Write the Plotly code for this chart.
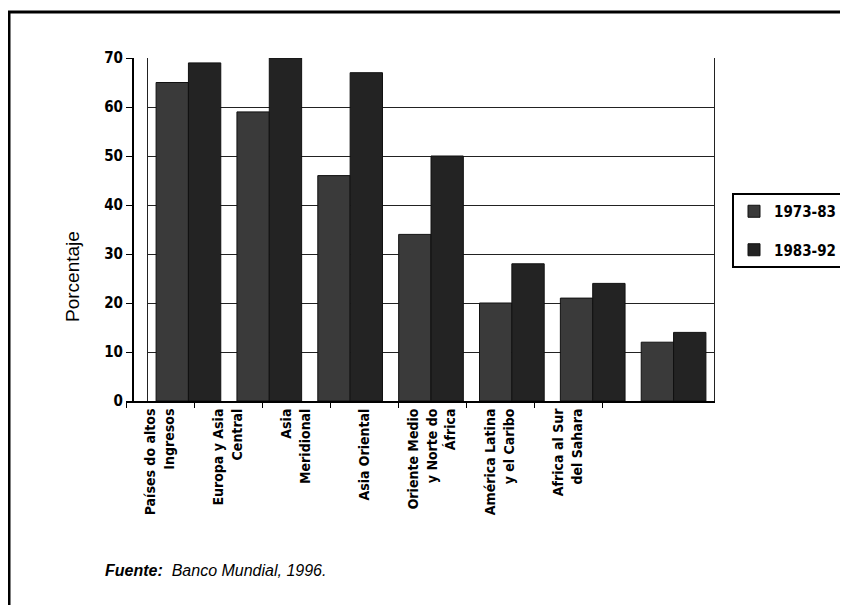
import plotly.graph_objects as go

W, H = 848, 605
OFF = 8  # page body margin offset of the rendered figure

categories = ["Países do altos<br>Ingresos", "Europa y Asia<br>Central", "Asia<br>Meridional",
              "Asia Oriental", "Oriente Medio<br>y Norte do<br>África", "América Latina<br>y el Caribo",
              "Africa al Sur<br>del Sahara"]
series_names = ["1973-83", "1983-92"]
values_7383 = [65, 59, 46, 34, 20, 21, 12]
values_8392 = [69, 70, 67, 50, 28, 24, 14]
y_ticks = [0, 10, 20, 30, 40, 50, 60, 70]

COND = "DejaVu Sans Condensed, Liberation Sans Narrow, Roboto Condensed, Arial Narrow, sans-serif"

def px(x):
    return (x - OFF) / W

def py(y):
    return 1 - (y - OFF) / H

fig = go.Figure()
fig.add_trace(go.Bar(x=list(range(len(categories))), y=values_7383, name=series_names[0],
                     marker=dict(color="#3a3a3a", line=dict(color="#111111", width=1)),
                     legendgroup="a", yaxis="y2"))
fig.add_trace(go.Bar(x=list(range(len(categories))), y=values_8392, name=series_names[1],
                     marker=dict(color="#232323", line=dict(color="#111111", width=1)),
                     legendgroup="b", yaxis="y2"))
# invisible trace carrying the category labels on the front axis
fig.add_trace(go.Scatter(x=categories, y=[0] * len(categories), xaxis="x2", yaxis="y",
                         mode="markers", marker=dict(opacity=0), showlegend=False,
                         hoverinfo="skip"))

fig.update_layout(
    template="none",
    width=W, height=H, autosize=False,
    margin=dict(l=0, r=0, t=0, b=0, pad=0),
    paper_bgcolor="white", plot_bgcolor="rgba(0,0,0,0)",
    barmode="group", bargap=0.2, bargroupgap=0.0,
    xaxis=dict(domain=[px(148), px(714)], range=[-0.5, 6.5], showticklabels=False,
               ticks="", showgrid=False, zeroline=False, showline=True,
               linecolor="black", linewidth=2, anchor="y", automargin=False),
    xaxis2=dict(domain=[px(126), px(602)], type="category", categoryarray=categories,
                range=[-0.5, 6.5], anchor="y", side="bottom",
                showline=True, linecolor="black", linewidth=2,
                ticks="outside", tickson="boundaries", ticklen=5, tickcolor="black",
                tickangle=-90, showgrid=False, zeroline=False, automargin=False,
                tickfont=dict(family=COND, size=14, color="black", weight="bold")),
    yaxis=dict(domain=[py(401), py(58)], range=[0, 70], tickvals=y_ticks,
               anchor="free", position=px(133), showline=True, linecolor="black",
               linewidth=2, ticks="outside", ticklen=6, tickcolor="black",
               showgrid=False, zeroline=False, automargin=False,
               tickfont=dict(family=COND, size=15, color="black", weight="bold")),
    yaxis2=dict(overlaying="y", range=[0, 70], tickvals=y_ticks, anchor="x",
                showticklabels=False, ticks="", showline=True, mirror=True,
                linecolor="#222222", linewidth=1.3, zeroline=False,
                showgrid=True, gridcolor="#222222", gridwidth=1.3, automargin=False),
    legend=dict(x=px(732), y=py(193), xanchor="left", yanchor="top",
                bordercolor="black", borderwidth=2, bgcolor="white",
                tracegroupgap=16, itemwidth=30,
                font=dict(family=COND, size=15, color="black", weight="bold")),
    showlegend=True,
)

fig.add_annotation(text="Porcentaje", xref="paper", yref="paper", x=px(72), y=py(277),
                   xanchor="center", yanchor="middle",
                   textangle=-90, showarrow=False,
                   font=dict(family="Liberation Sans, Arial, sans-serif", size=19, color="black"))
fig.add_annotation(text="<b><i>Fuente:</i></b>  <i>Banco Mundial, 1996.</i>", xref="paper", yref="paper",
                   x=px(103), y=py(570), xanchor="left", yanchor="middle", showarrow=False,
                   font=dict(family="Liberation Sans, Arial, sans-serif", size=16, color="black"))
# outer frame (right and bottom edges fall outside the picture)
fig.add_shape(type="rect", xref="paper", yref="paper", x0=px(9), x1=1.05, y0=-0.05, y1=py(12),
              line=dict(color="black", width=3))

fig.write_html("out.html")
